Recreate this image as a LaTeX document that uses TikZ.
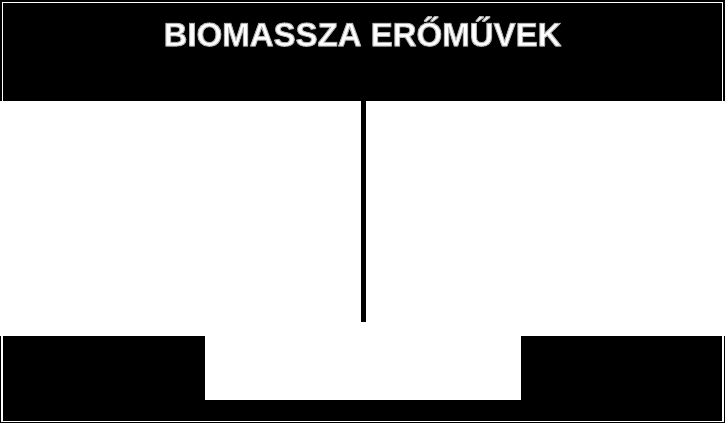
\documentclass[tikz,border=0pt]{standalone}
\usepackage{fontspec}
\setmainfont{Liberation Sans}
\newcommand{\halotext}[1]{\textcolor{white}{\special{pdf:literal 2 Tr 0.7 G 1 w 1 j}#1\special{pdf:literal 0 Tr}}}
\begin{document}
\begin{tikzpicture}[x=1bp,y=-1bp,
  blackbox/.style={fill=black,draw=none,inner sep=0pt,outer sep=0pt,rectangle,anchor=north west},
  whitebox/.style={fill=white,draw=none,inner sep=0pt,outer sep=0pt,rectangle,anchor=north west},
  rim/.style={draw=white,line width=1.5bp},
  conn/.style={draw=black,line width=4.5bp},
  titletxt/.style={inner sep=0pt,font=\fontsize{33bp}{40bp}\selectfont\bfseries,anchor=base}]
\useasboundingbox (0,0) rectangle (726,423);
% top box
\node[blackbox,minimum width=725bp,minimum height=101bp] (title) at (0,0) {};
\draw[rim] (2.5,101) -- (2.5,2.5) -- (722.5,2.5) -- (722.5,101);
% title text with halo
\node[titletxt] (titletext) at (362.5,46) {\halotext{BIOMASSZA ERŐMŰVEK}};
% bottom box
\node[blackbox,minimum width=725bp,minimum height=87bp] (base) at (0,336) {};
\draw[rim] (2,336) -- (2,421.5) -- (723,421.5) -- (723,336);
\node[whitebox,minimum width=316bp,minimum height=64bp] (cut) at (205,336) {};
% connector
\coordinate (lineend) at (363.3,322);
\draw[conn] (title.south -| lineend) -- (lineend);
\end{tikzpicture}
\end{document}
